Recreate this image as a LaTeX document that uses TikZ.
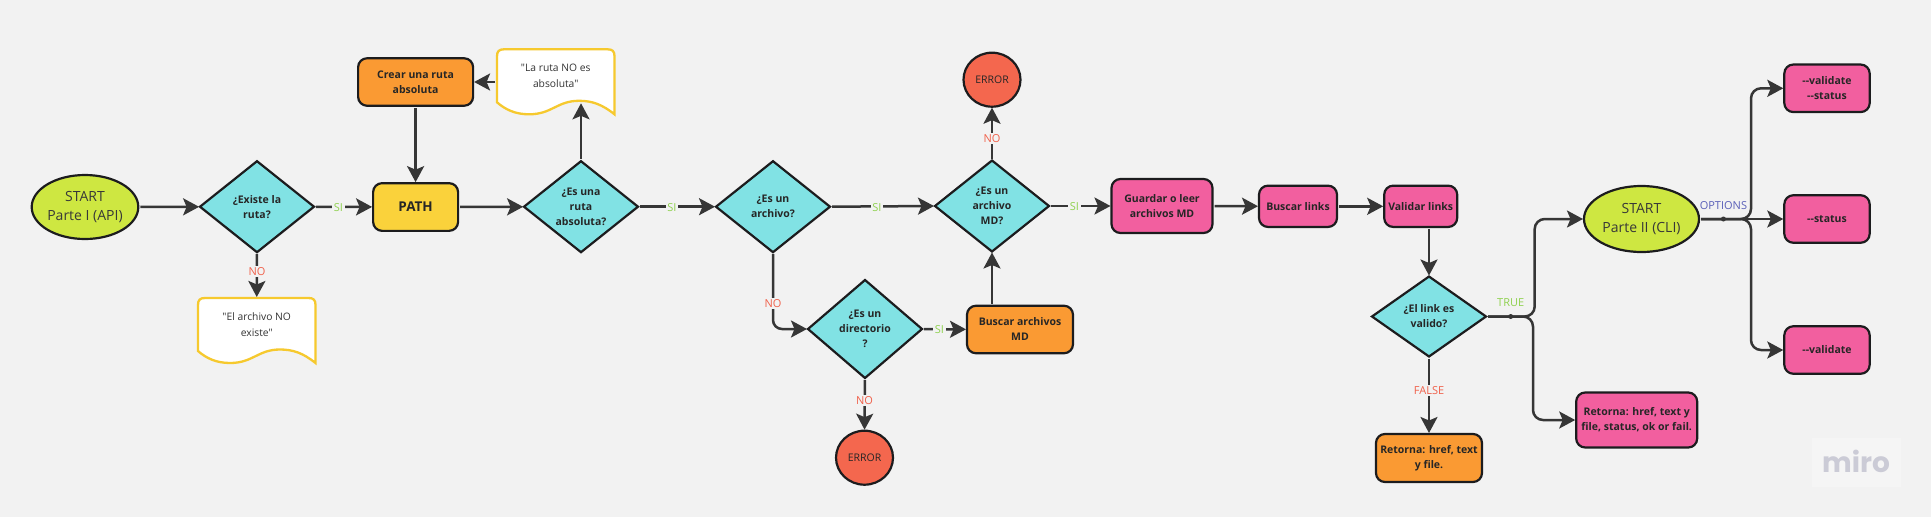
\documentclass[tikz,border=0pt]{standalone}
\usepackage{fontspec}
\newfontfamily\osf{Open Sans}
\newfontfamily\miroFont{Poppins}
\AtBeginDocument{\osf}
\usetikzlibrary{shapes.geometric,arrows.meta}
\definecolor{bgc}{HTML}{F2F2F2}
\definecolor{lime}{HTML}{CEE741}
\definecolor{teal}{HTML}{81E2E4}
\definecolor{yel}{HTML}{FAD23B}
\definecolor{ora}{HTML}{FA9A33}
\definecolor{pnk}{HTML}{F25F9F}
\definecolor{redc}{HTML}{F4674E}
\definecolor{edge}{HTML}{1C1C1E}
\definecolor{linec}{HTML}{363636}
\definecolor{docl}{HTML}{F6C92E}
\definecolor{sigreen}{HTML}{8FD14F}
\definecolor{nored}{HTML}{F0604A}
\definecolor{optblue}{HTML}{5A5FB8}
\definecolor{mirogray}{HTML}{CBCBD6}
\tikzset{
  basen/.style={draw=edge,line width=2.2pt,inner sep=0pt,outer sep=0pt,align=center,text=black!85},
  bold/.style={font=\fontsize{10.5}{15}\selectfont\bfseries},
  startn/.style={basen,ellipse,fill=lime,font=\fontsize{14}{19.5}\selectfont,text=black!78},
  dia/.style={basen,bold,diamond,fill=teal,aspect=1.25},
  box/.style={basen,bold,rectangle,rounded corners=9pt,minimum height=47.5pt},
  orbox/.style={box,fill=ora},
  pkbox/.style={box,fill=pnk},
  err/.style={basen,ellipse,fill=redc,minimum width=57pt,minimum height=54pt,font=\fontsize{10.5}{14}\selectfont},
  doct/.style={inner sep=0pt,outer sep=0pt,align=center,minimum width=117.5pt,minimum height=53pt,font=\fontsize{10.3}{15.5}\selectfont,text=black!80},
  docline/.style={draw=docl,fill=white,line width=2.3pt},
  arr/.style={draw=linec,line width=2.5pt,-{Stealth[length=16pt,width=17pt,inset=3.5pt]},shorten <=2pt,shorten >=1pt},
  lab/.style={fill=bgc,inner sep=1.5pt,font=\fontsize{11}{13}\selectfont},
  labsi/.style={lab,text=sigreen},
  labno/.style={lab,text=nored},
  jdot/.style={circle,fill=linec,inner sep=0pt,minimum size=5pt},
}
\newcommand{\docwave}[2]{%
  \path[docline,shift={(#1,#2)}] (0,53) -- (0,7) .. controls (0,2) and (2,0) .. (7,0) -- (110.5,0)
    .. controls (115.5,0) and (117.5,2) .. (117.5,7) -- (117.5,65)
    .. controls (105,55) and (95,51.5) .. (82,51.5)
    .. controls (60,51.5) and (55,65) .. (32,65)
    .. controls (18,65) and (8,60) .. (0,53) -- cycle;}
\begin{document}
\begin{tikzpicture}[x=1pt,y=-1pt]
\path[fill=bgc] (0,0) rectangle (1931,517);
\useasboundingbox (0,0) rectangle (1931,517);
% watermark
\path[fill=white,fill opacity=0.25] (1812,438) rectangle (1901,487);
\node[text=mirogray,font=\fontsize{28}{30}\selectfont\miroFont\bfseries] (miro) at (1856,461) {miro};
% nodes
\node[startn,minimum width=106pt,minimum height=64pt] (s1) at (85,207) {START\\Parte I (API)};
\node[dia,minimum width=114pt,minimum height=91pt] (d1) at (257,206.7) {¿Existe la\\ruta?};
\docwave{198}{298}
\node[doct] (docno) at (256.75,324.5) {"El archivo NO\\existe"};
\node[basen,rectangle,rounded corners=9pt,fill=yel,minimum width=85pt,minimum height=47.7pt,font=\fontsize{13.5}{16}\selectfont\bfseries] (path) at (415.6,207) {PATH};
\node[orbox,minimum width=115pt] (crear) at (415.6,82) {Crear una ruta\\absoluta};
\docwave{497}{49.3}
\node[doct] (docla) at (555.75,75.8) {"La ruta NO es\\absoluta"};
\node[dia,minimum width=114pt,minimum height=91pt] (d2) at (581,206.7) {¿Es una\\ruta\\absoluta?};
\node[dia,minimum width=114pt,minimum height=91pt] (d3) at (773,206.7) {¿Es un\\archivo?};
\node[dia,minimum width=114pt,minimum height=91pt] (d4) at (992,206) {¿Es un\\archivo\\MD?};
\node[err] (e1) at (992,79.7) {ERROR};
\node[pkbox,minimum width=101pt,minimum height=54pt] (guardar) at (1162,206) {Guardar o leer\\archivos MD};
\node[dia,minimum width=114pt,minimum height=98pt] (dir) at (865,329) {¿Es un\\directorio\\?};
\node[orbox,minimum width=106pt] (buscar) at (1020,329.5) {Buscar archivos\\MD};
\node[err] (e2) at (864.5,457.7) {ERROR};
\node[pkbox,minimum width=78pt,minimum height=41.3pt] (blinks) at (1298,206.3) {Buscar links};
\node[pkbox,minimum width=73pt,minimum height=41.3pt] (vlinks) at (1420.7,206.3) {Validar links};
\node[dia,minimum width=114pt,minimum height=80pt] (link) at (1429,316.5) {¿El link es\\valido?};
\node[orbox,minimum width=106pt,minimum height=48pt] (rfalse) at (1429,458) {Retorna: href, text\\y file.};
\node[pkbox,minimum width=121pt,minimum height=55pt] (rtrue) at (1636.7,420) {Retorna: href, text y\\file, status, ok or fail.};
\node[startn,minimum width=115pt,minimum height=66pt] (s2) at (1641.5,219) {START\\Parte II (CLI)};
\node[pkbox,minimum width=85.4pt] (o1) at (1827,88.3) {--validate\\--status};
\node[pkbox,minimum width=85.4pt] (o2) at (1827,219) {--status};
\node[pkbox,minimum width=85.4pt] (o3) at (1827,350) {--validate};
% junction coordinates
\coordinate (jt) at (1534.7,316.5);
\coordinate (jf) at (1533,316.5);
\coordinate (jo) at (1751,219);
% connectors
\draw[arr] (s1) -- (d1);
\draw[arr] (d1) -- (path);
\draw[arr] (d1.south) -- (docno.north);
\draw[arr] (path) -- (d2);
\draw[arr] (crear.south) -- (path.north);
\draw[arr] (d2.north) -- (d2.north |- docla.south);
\draw[arr] (docla.west |- crear.east) -- (crear.east);
\draw[arr] (d2) -- (d3);
\draw[arr] (d3.east) -- (d4.west);
\draw[arr] (d4.north) -- (e1.south);
\draw[arr] (d4) -- (guardar);
\draw[arr] (guardar) -- (blinks);
\draw[arr] (blinks) -- (vlinks);
\draw[arr] (vlinks.south -| link.north) -- (link.north);
\draw[arr,rounded corners=9pt] (d3.south) |- (dir.west);
\draw[arr] (dir) -- (buscar);
\draw[arr] (dir.south) -- (e2.north);
\draw[arr] (buscar.north -| d4.south) -- (d4.south);
\draw[arr,rounded corners=10pt] (link.east) -- (jt) |- (s2.west);
\draw[arr,rounded corners=10pt] (link.east) -- (jf) |- (rtrue.west);
\draw[arr] (link.south) -- (rfalse.north);
\draw[arr,rounded corners=10pt] (s2.east) -- (jo) |- (o1.west);
\draw[arr] (s2.east) -- (o2.west);
\draw[arr,rounded corners=10pt] (s2.east) -- (jo) |- (o3.west);
\node[jdot] (dot1) at (1510.7,316.5) {};
\node[jdot] (dot2) at (1723.4,219) {};
% labels
\node[labsi] (l1) at (338.5,207.5) {SI};
\node[labno] (l2) at (257,271.5) {NO};
\node[labsi] (l3) at (672,207.5) {SI};
\node[labsi] (l4) at (877,207.5) {SI};
\node[labno] (l5) at (992,138.5) {NO};
\node[labsi] (l6) at (1074.5,206.5) {SI};
\node[labno] (l7) at (773,303.5) {NO};
\node[labsi] (l8) at (939.5,330) {SI};
\node[labno] (l9) at (864.5,400.5) {NO};
\node[labno] (l10) at (1429,390.5) {FALSE};
\node[lab,fill=none,text=sigreen] (l11) at (1510.7,302.5) {TRUE};
\node[lab,fill=none,text=optblue] (l12) at (1723.4,205.5) {OPTIONS};
\end{tikzpicture}
\end{document}
